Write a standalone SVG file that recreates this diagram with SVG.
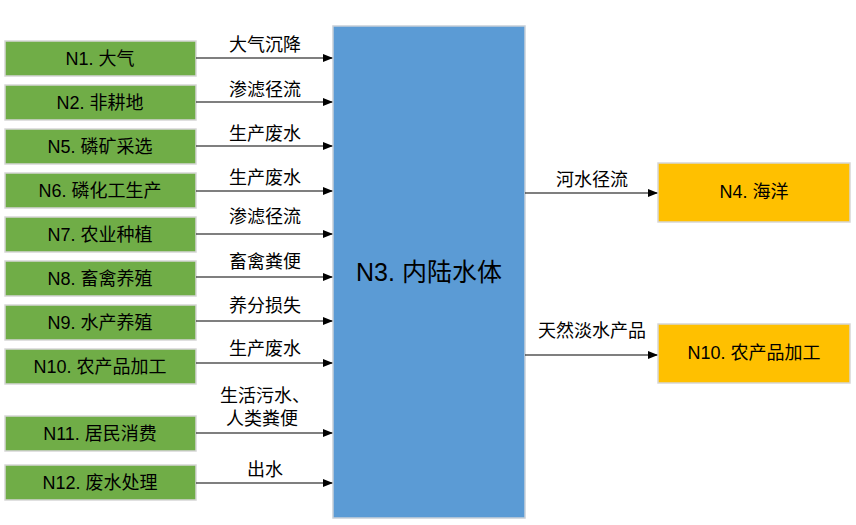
<svg xmlns="http://www.w3.org/2000/svg" width="856" height="525" viewBox="0 0 856 525">
<defs>
<marker id="ah" markerWidth="10" markerHeight="8" refX="9" refY="4" orient="auto" markerUnits="userSpaceOnUse">
<path d="M0,0 L10,4 L0,8 Z" fill="#000"/>
</marker>
<style>
.g{fill:#70AD47;stroke:#d6d6d6;stroke-width:1.5}
.o{fill:#FFC000;stroke:#d6d6d6;stroke-width:1.5}
.b{fill:#5B9BD5;stroke:#c8d0d8;stroke-width:1.5}
text{font-family:"Liberation Sans","Noto Sans CJK SC",sans-serif;fill:#000}
.t{font-size:18px;text-anchor:middle}
.l{font-size:18px;text-anchor:middle}
.c{font-size:25px;text-anchor:middle}
.a{stroke:#000;stroke-width:1.2;fill:none;marker-end:url(#ah)}
</style>
</defs>
<rect width="856" height="525" fill="#fff"/>
<g id="N3"><rect class="b" x="333" y="26" width="192" height="492"/><text class="c" x="429" y="281">N3. 内陆水体</text></g>
<g id="N1"><rect class="g" x="5" y="41" width="191" height="35"/><text class="t" x="100" y="65">N1. 大气</text></g>
<g id="N2"><rect class="g" x="5" y="85" width="191" height="35"/><text class="t" x="100" y="109">N2. 非耕地</text></g>
<g id="N5"><rect class="g" x="5" y="129" width="191" height="35"/><text class="t" x="100" y="153">N5. 磷矿采选</text></g>
<g id="N6"><rect class="g" x="5" y="173" width="191" height="35"/><text class="t" x="100" y="197">N6. 磷化工生产</text></g>
<g id="N7"><rect class="g" x="5" y="217" width="191" height="35"/><text class="t" x="100" y="241">N7. 农业种植</text></g>
<g id="N8"><rect class="g" x="5" y="261" width="191" height="35"/><text class="t" x="100" y="285">N8. 畜禽养殖</text></g>
<g id="N9"><rect class="g" x="5" y="305" width="191" height="35"/><text class="t" x="100" y="329">N9. 水产养殖</text></g>
<g id="N10a"><rect class="g" x="5" y="349" width="191" height="35"/><text class="t" x="100" y="373">N10. 农产品加工</text></g>
<g id="N11"><rect class="g" x="5" y="416" width="191" height="35"/><text class="t" x="100" y="440">N11. 居民消费</text></g>
<g id="N12"><rect class="g" x="5" y="465" width="191" height="35"/><text class="t" x="100" y="489">N12. 废水处理</text></g>
<g id="N4"><rect class="o" x="658" y="163" width="192" height="59"/><text class="t" x="754" y="198">N4. 海洋</text></g>
<g id="N10b"><rect class="o" x="658" y="324" width="192" height="59"/><text class="t" x="754" y="359">N10. 农产品加工</text></g>
<g id="connectors">
<line class="a" x1="196" y1="58" x2="332" y2="58"/>
<line class="a" x1="196" y1="102" x2="332" y2="102"/>
<line class="a" x1="196" y1="146" x2="332" y2="146"/>
<line class="a" x1="196" y1="191" x2="332" y2="191"/>
<line class="a" x1="196" y1="234" x2="332" y2="234"/>
<line class="a" x1="196" y1="277" x2="332" y2="277"/>
<line class="a" x1="196" y1="321" x2="332" y2="321"/>
<line class="a" x1="196" y1="363" x2="332" y2="363"/>
<line class="a" x1="196" y1="433" x2="332" y2="433"/>
<line class="a" x1="196" y1="483" x2="332" y2="483"/>
<line class="a" x1="525" y1="193" x2="657" y2="193"/>
<line class="a" x1="525" y1="355" x2="657" y2="355"/>
<text class="l" x="265" y="51">大气沉降</text>
<text class="l" x="265" y="96">渗滤径流</text>
<text class="l" x="265" y="140">生产废水</text>
<text class="l" x="265" y="184">生产废水</text>
<text class="l" x="265" y="223">渗滤径流</text>
<text class="l" x="265" y="268">畜禽粪便</text>
<text class="l" x="265" y="312">养分损失</text>
<text class="l" x="265" y="355">生产废水</text>
<text class="l" x="265" y="402">生活污水、</text>
<text class="l" x="262" y="425">人类粪便</text>
<text class="l" x="265" y="476">出水</text>
<text class="l" x="592" y="186">河水径流</text>
<text class="l" x="592" y="337">天然淡水产品</text>
</g>
</svg>
